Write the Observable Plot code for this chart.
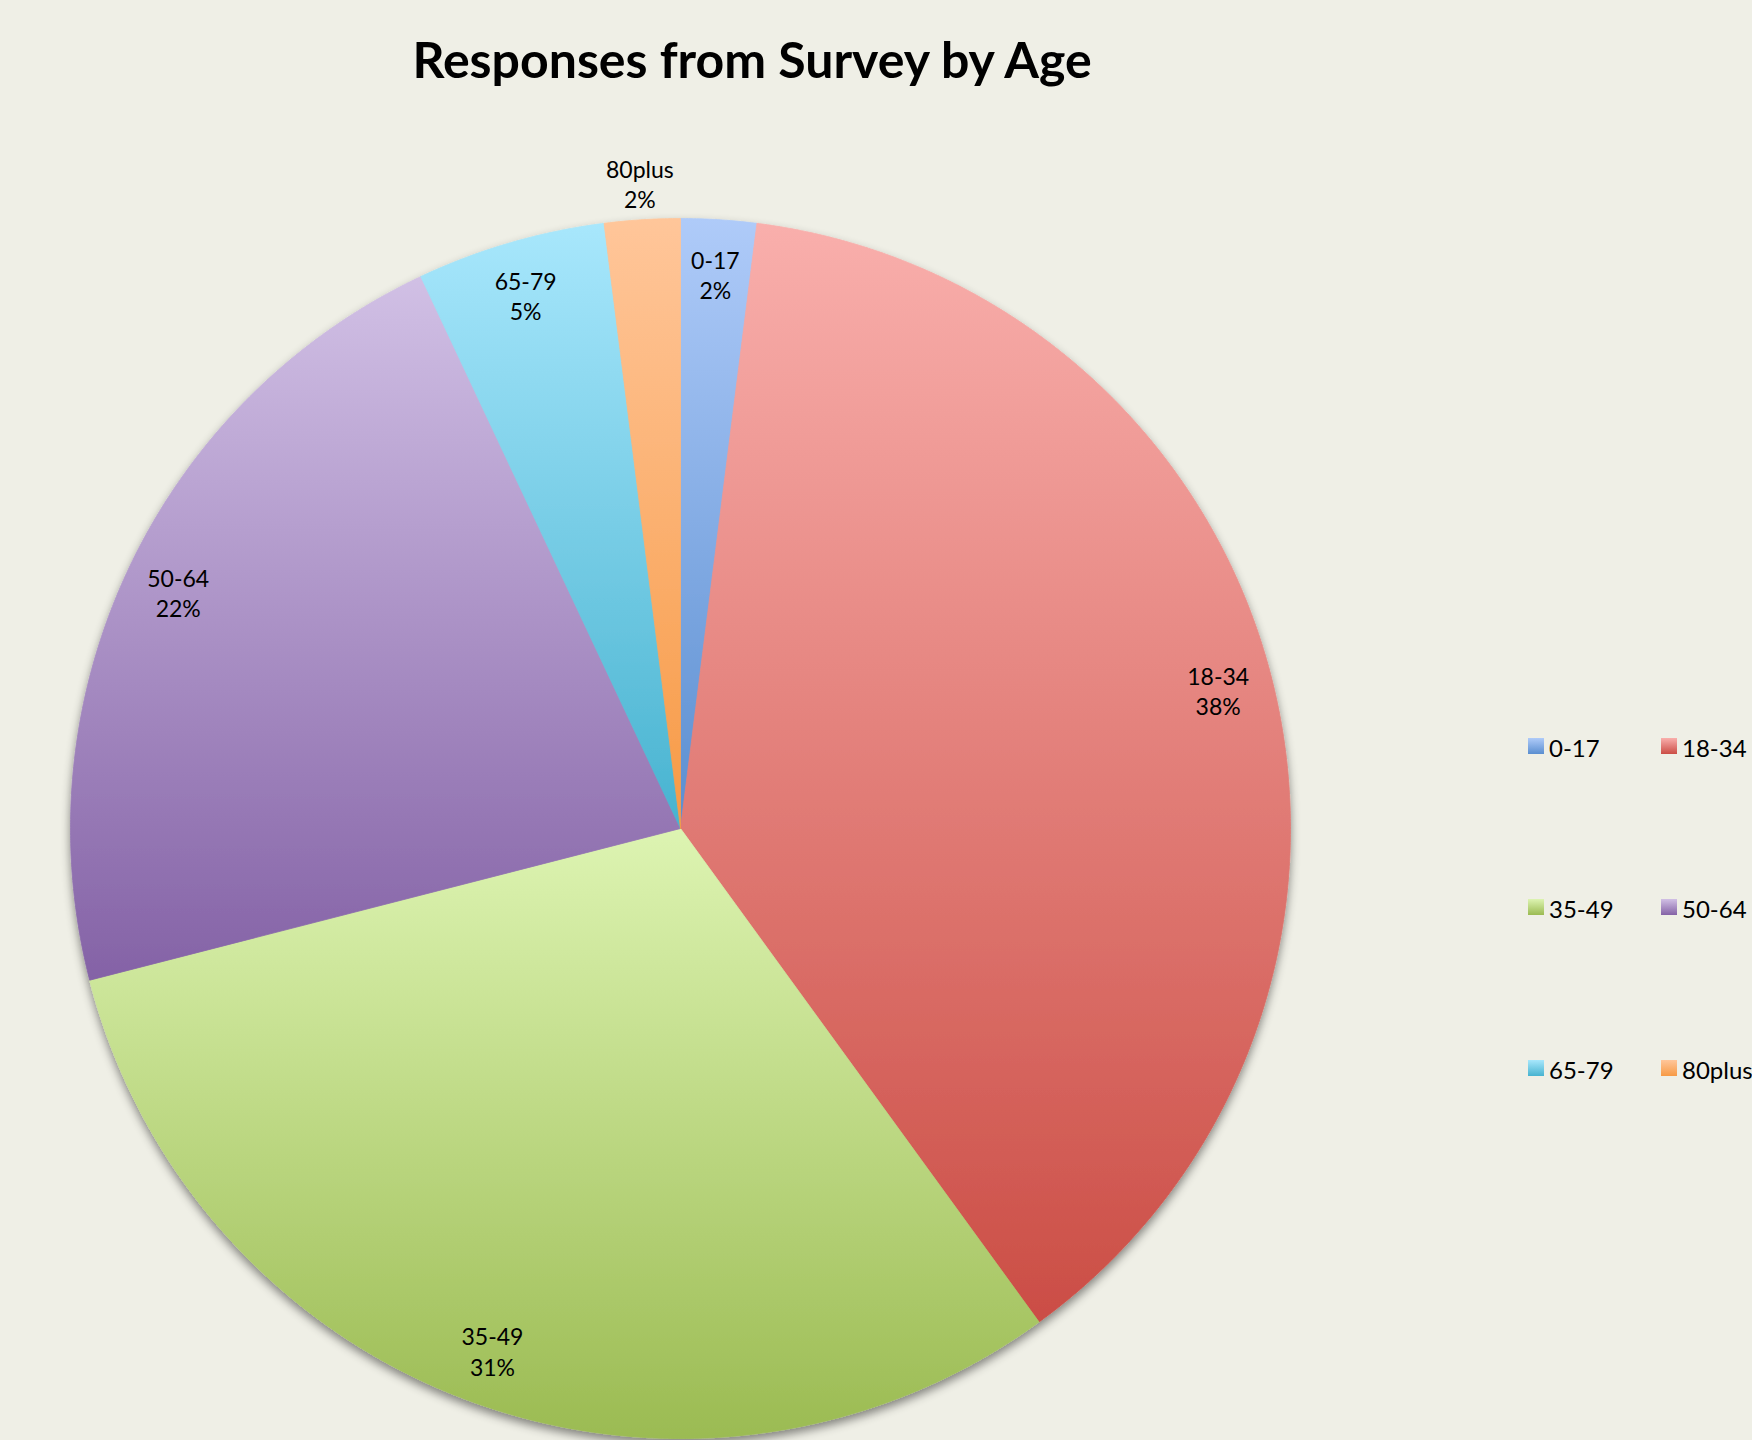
<!DOCTYPE html>
<html>
<head>
<meta charset="utf-8">
<script src="https://cdn.jsdelivr.net/npm/d3@7"></script>
<script src="https://cdn.jsdelivr.net/npm/@observablehq/plot@0.6"></script>
<style>
  html, body { margin: 0; padding: 0; background: #EFEFE6; }
  #wrap { position: relative; width: 1752px; height: 1440px; overflow: hidden; background: #EFEFE6; }
  #title { position: absolute; left: 0; width: 1504px; top: 34px; text-align: center;
           font-family: Lato, "Open Sans", sans-serif; font-weight: bold; font-size: 50px; line-height: 50px; color: #000; }
  #chart { position: absolute; left: 0; top: 130px; }
  #legend { position: absolute; left: 1528px; top: 736px; display: grid;
            grid-template-columns: 133px 133px; grid-auto-rows: 161px; }
  .item { display: flex; align-items: flex-start; font-family: Lato, "Open Sans", sans-serif; font-size: 24px; line-height: 24px; color: #000; white-space: nowrap; }
  .sw { width: 16px; height: 16px; margin-top: 2px; margin-right: 5px; flex: none; }
</style>
</head>
<body>
<div id="wrap">
  <div id="title">Responses from Survey by Age</div>
  <div id="chart"></div>
  <div id="legend"></div>
</div>
<script>
// ---- data ----
const ages = ["0-17", "18-34", "35-49", "50-64", "65-79", "80plus"];
const shares = [2, 38, 31, 22, 5, 2]; // percent of responses

// ---- palette (light top -> dark bottom gradient per slice) ----
const topColors = ["#AFCBF9", "#F9AFAC", "#DDF4B2", "#D1C0E5", "#A8E7FC", "#FFC69A"];
const bottomColors = ["#5A8ED0", "#CB4D45", "#9BBB52", "#8462A6", "#47B3D0", "#F79A45"];

const total = d3.sum(shares);
const slices = [];
let cum = 0;
shares.forEach((v, i) => {
  const a0 = cum / total * 2 * Math.PI;
  cum += v;
  const a1 = cum / total * 2 * Math.PI;
  slices.push({age: ages[i], share: v, a0, a1, i});
});

// polygon rows for each slice (computed from the data)
const rows = [];
for (const s of slices) {
  const fill = `url(#grad${s.i})`;
  rows.push({age: s.age, x: 0, y: 0, fill});
  const n = Math.max(2, Math.ceil((s.a1 - s.a0) / (Math.PI / 720)));
  for (let k = 0; k <= n; k++) {
    const a = s.a0 + (s.a1 - s.a0) * k / n;
    rows.push({age: s.age, x: Math.sin(a), y: Math.cos(a), fill});
  }
  rows.push({age: s.age, x: 0, y: 0, fill});
}

const labels = slices.map(s => {
  const m = (s.a0 + s.a1) / 2;
  const r = s.age === "80plus" ? 1.06 : 0.91;
  return {x: r * Math.sin(m), y: r * Math.cos(m), text: `${s.age}\n${Math.round(s.share / total * 100)}%`};
});

const chart = Plot.plot({
  width: 1400,
  height: 1310,
  marginLeft: 70,
  marginRight: 110,
  marginTop: 88,
  marginBottom: 2,
  x: {domain: [-1, 1], axis: null},
  y: {domain: [-1, 1], axis: null},
  color: {type: "identity"},
  style: {background: "transparent", overflow: "visible"},
  marks: [
    Plot.line(rows, {x: "x", y: "y", z: "age", fill: "fill", stroke: "fill", strokeWidth: 0.8, curve: "linear"}),
    Plot.text(labels, {x: "x", y: "y", text: "text", fontSize: 23, fontFamily: "Lato, 'Open Sans', sans-serif",
                       fill: "#000", lineHeight: 1.32})
  ]
});

// gradients + shadow
const ns = "http://www.w3.org/2000/svg";
const defs = document.createElementNS(ns, "defs");
let defsHtml = "";
ages.forEach((a, i) => {
  defsHtml += `<linearGradient id="grad${i}" x1="0" y1="0" x2="0" y2="1">
    <stop offset="0" stop-color="${topColors[i]}"/>
    <stop offset="1" stop-color="${bottomColors[i]}"/>
  </linearGradient>`;
});
defsHtml += `<filter id="pieShadow" x="-10%" y="-10%" width="120%" height="125%">
  <feDropShadow dx="0" dy="5" stdDeviation="5" flood-color="#000" flood-opacity="0.45"/>
</filter>`;
defs.innerHTML = defsHtml;
chart.insertBefore(defs, chart.firstChild);
const lineG = chart.querySelector('g[aria-label="line"]');
if (lineG) lineG.setAttribute("filter", "url(#pieShadow)");
chart.style.overflow = "visible";
document.getElementById("chart").appendChild(chart);

// legend
const legend = document.getElementById("legend");
ages.forEach((a, i) => {
  const item = document.createElement("div");
  item.className = "item";
  const sw = document.createElement("div");
  sw.className = "sw";
  sw.style.background = `linear-gradient(to bottom, ${topColors[i]}, ${bottomColors[i]})`;
  const t = document.createElement("span");
  t.textContent = a;
  item.appendChild(sw);
  item.appendChild(t);
  legend.appendChild(item);
});
</script>
</body>
</html>
